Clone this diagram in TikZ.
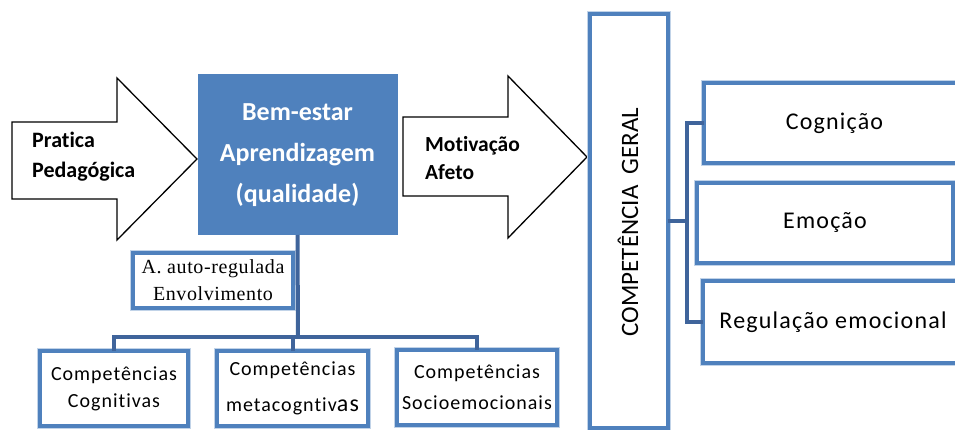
\documentclass[tikz,border=0pt]{standalone}
\usepackage{fontspec}
\setmainfont{Carlito}[Ligatures=NoCommon]
\newfontfamily\spacedfont{Carlito}[LetterSpace=5,Ligatures=NoCommon]
\newfontfamily\seriffont{Liberation Serif}[LetterSpace=3,Ligatures=NoCommon]
\definecolor{boxblue}{RGB}{79,129,189}
\definecolor{connblue}{RGB}{63,100,155}
\begin{document}
\begin{tikzpicture}[x=1pt,y=-1pt,
  bx/.style={draw=boxblue, line width=3.5pt, fill=white,
    preaction={draw=boxblue!35, line width=6.5pt},
    inner sep=0pt, outer sep=0pt, align=center},
  conn/.style={draw=connblue, line width=4pt},
  bigarrow/.style={draw=black, line width=1.3pt, fill=white, line join=miter},
  boldtxt/.style={font=\fontsize{22}{30}\selectfont\bfseries, align=left, anchor=west, inner sep=0pt},
  smalltxt/.style={font=\spacedfont\fontsize{20}{27}\selectfont},
  righttxt/.style={font=\spacedfont\fontsize{24}{28}\selectfont}
]
\useasboundingbox (0,0) rectangle (955,430);

% big arrows
\draw[bigarrow] (12,122) -- (117,122) -- (117,78) -- (197,159) -- (117,240) -- (117,199) -- (12,199) -- cycle;
\draw[bigarrow] (403,117) -- (508,117) -- (508,76) -- (587,157) -- (508,238) -- (508,196) -- (403,196) -- cycle;
\node[boldtxt] (pp) at (32,157) {Pratica\\Pedagógica};
\node[boldtxt, font=\fontsize{21.5}{28}\selectfont\bfseries] (ma) at (425,158) {Motivação\\Afeto};

% central blue box
\node[draw=boxblue, fill=boxblue, line width=1pt, minimum width=199pt, minimum height=160pt,
  inner sep=0pt, outer sep=0pt, text=white, align=center,
  font=\fontsize{26}{41}\selectfont\bfseries] (blue) at (297.5,155) {Bem-estar\\Aprendizagem\\(qualidade)};

% A. auto-regulada
\node[bx, minimum width=160pt, minimum height=55pt,
  font=\seriffont\fontsize{20}{27}\selectfont] (aar) at (213,280.5) {A. auto-regulada\\Envolvimento};

% bottom boxes
\node[bx, smalltxt, minimum width=148pt, minimum height=75pt] (c1) at (114,388.5) {Competências\\Cognitivas};
\node[bx, smalltxt, minimum width=151pt, minimum height=75pt, font=\spacedfont\fontsize{20}{36}\selectfont] (c2) at (292.5,388.5) {Competências\\metacogntiv{\fontsize{24}{36}\selectfont as}};
\node[bx, smalltxt, minimum width=160pt, minimum height=75pt, font=\spacedfont\fontsize{20}{31}\selectfont] (c3) at (477,387.5) {Competências\\Socioemocionais};

% competencia geral
\node[bx, minimum width=78pt, minimum height=414pt] (cg) at (629,221) {};
\node[rotate=90, font=\fontsize{25}{30}\selectfont, inner sep=0pt] (cgt) at (628,222) {COMPETÊNCIA\ \ GERAL};

% right boxes
\node[bx, righttxt, minimum width=261pt, minimum height=80pt] (cog) at (834.5,123) {Cognição};
\node[bx, righttxt, minimum width=256pt, minimum height=80pt] (emo) at (825,223) {Emoção};
\node[bx, righttxt, minimum width=260pt, minimum height=82pt] (reg) at (833,322) {Regulação emocional};

% connectors
\coordinate (bus) at (298,337);
\draw[conn] (blue.south) -- (bus);
\draw[conn] (c1.north) |- (bus) -| (c3.north);
\draw[conn] (c2.north) -- (c2.north |- bus);

\coordinate (br) at (687,221);
\draw[conn] (cg.east) -- (br);
\draw[conn] (cog.west) -| (br) |- (reg.west);
\end{tikzpicture}
\end{document}
